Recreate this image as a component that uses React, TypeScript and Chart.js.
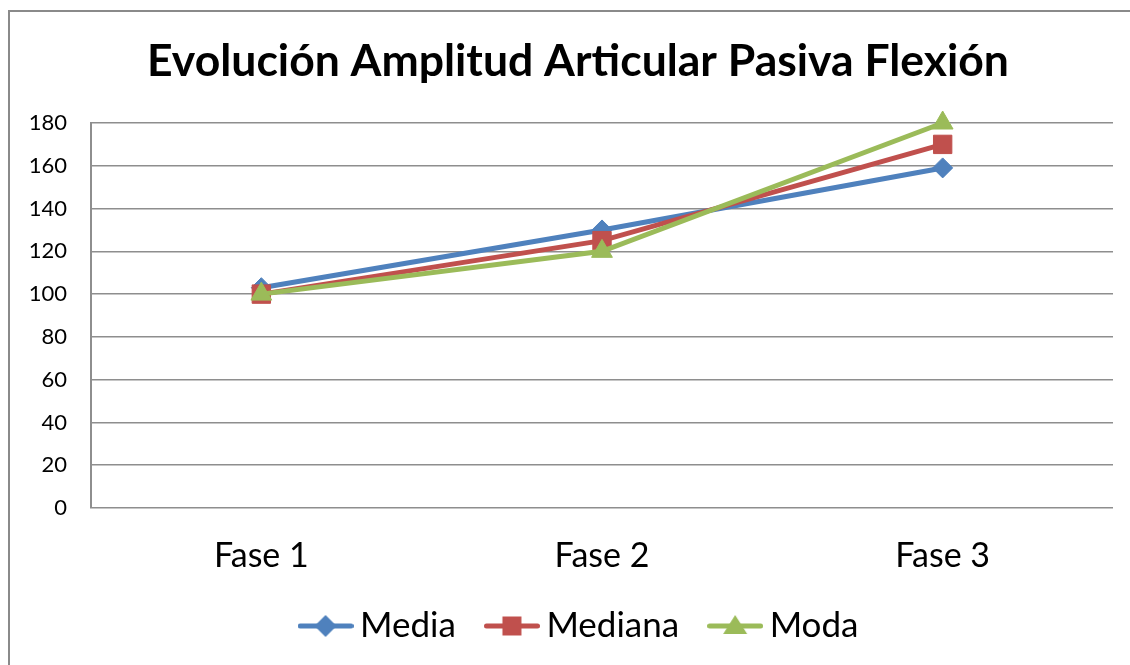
import React, { useEffect, useRef } from "react";
import { Chart, registerables } from "chart.js";

Chart.register(...registerables);

const titleText = "Evolución Amplitud Articular Pasiva Flexión";
const categories = ["Fase 1", "Fase 2", "Fase 3"];
const seriesNames = ["Media", "Mediana", "Moda"];
const mediaValues = [103, 130, 159];
const medianaValues = [100, 125, 170];
const modaValues = [100, 120, 180];
const yMin = 0;
const yMax = 180;
const yStep = 20;

const colors = ["#4F81BD", "#C0504D", "#9BBB59"];
const FONT = "Lato, 'Open Sans', sans-serif";

function makeIcon(kind: string, color: string): HTMLCanvasElement {
  const c = document.createElement("canvas");
  c.width = 56;
  c.height = 28;
  const ctx = c.getContext("2d")!;
  ctx.strokeStyle = color;
  ctx.fillStyle = color;
  ctx.lineWidth = 5;
  ctx.lineCap = "round";
  ctx.beginPath();
  ctx.moveTo(2.5, 14);
  ctx.lineTo(53.5, 14);
  ctx.stroke();
  ctx.beginPath();
  const cx = 28, cy = 14;
  if (kind === "diamond") {
    ctx.moveTo(cx, cy - 11);
    ctx.lineTo(cx + 11, cy);
    ctx.lineTo(cx, cy + 11);
    ctx.lineTo(cx - 11, cy);
  } else if (kind === "square") {
    ctx.rect(cx - 9.5, cy - 9.5, 19, 19);
  } else {
    ctx.moveTo(cx, cy - 11);
    ctx.lineTo(cx + 12, cy + 8);
    ctx.lineTo(cx - 12, cy + 8);
  }
  ctx.closePath();
  ctx.fill();
  return c;
}

const frame = {
  id: "frame",
  beforeDraw(chart: any) {
    const ctx = chart.ctx;
    ctx.save();
    ctx.fillStyle = "#ffffff";
    ctx.fillRect(0, 0, chart.width, chart.height);
    ctx.strokeStyle = "#8a8a8a";
    ctx.lineWidth = 2;
    ctx.strokeRect(9, 11, 1400, 900);
    ctx.restore();
  },
};

// Nudge the title and legend boxes so they sit where the original places them
const shiftBoxes = {
  id: "shiftBoxes",
  afterLayout(chart: any) {
    const t = chart.titleBlock;
    if (t) {
      t.left += 21.5;
      t.right += 21.5;
    }
    const l = chart.legend;
    if (l) {
      l.left += 27;
      l.right += 27;
      l.top -= 11.5;
      l.bottom -= 11.5;
    }
  },
};

export default function App() {
  const ref = useRef<HTMLCanvasElement | null>(null);
  useEffect(() => {
    if (!ref.current) return;
    const icons = [makeIcon("diamond", colors[0]), makeIcon("square", colors[1]), makeIcon("triangle", colors[2])];
    const chart = new Chart(ref.current, {
      type: "line",
      data: {
        labels: categories,
        datasets: [
          {
            label: seriesNames[0],
            data: mediaValues,
            borderColor: colors[0],
            backgroundColor: colors[0],
            borderWidth: 5,
            pointStyle: "rectRot",
            pointRadius: 10,
            pointBorderWidth: 1,
            clip: false,
            order: 3,
          },
          {
            label: seriesNames[1],
            data: medianaValues,
            borderColor: colors[1],
            backgroundColor: colors[1],
            borderWidth: 5,
            pointStyle: "rect",
            pointRadius: 13,
            pointBorderWidth: 1,
            clip: false,
            order: 2,
          },
          {
            label: seriesNames[2],
            data: modaValues,
            borderColor: colors[2],
            backgroundColor: colors[2],
            borderWidth: 5,
            pointStyle: "triangle",
            pointRadius: 12,
            pointBorderWidth: 1,
            clip: false,
            order: 1,
          },
        ],
      },
      options: {
        responsive: false,
        animation: false,
        layout: { padding: { left: 0, right: 17, top: 0, bottom: 0 } },
        scales: {
          x: {
            type: "category",
            offset: true,
            grid: { display: false, drawTicks: false },
            border: { display: false },
            ticks: { color: "#000", font: { family: FONT, size: 34 }, padding: 28 },
            afterFit(scale: any) {
              scale.height = 73;
            },
          },
          y: {
            min: yMin,
            max: yMax,
            ticks: { stepSize: yStep, color: "#000", font: { family: FONT, size: 22 }, padding: 24 },
            grid: { color: "#8e8e8e", lineWidth: 1.5, drawTicks: false },
            border: { display: true, color: "#8e8e8e", width: 2 },
            afterFit(scale: any) {
              scale.width = 91;
            },
          },
        },
        plugins: {
          title: {
            display: true,
            text: titleText,
            color: "#000",
            font: { family: FONT, size: 44.5, weight: "bold", lineHeight: 1.2 },
            padding: { top: 35.3, bottom: 34.3 },
          },
          legend: {
            position: "bottom",
            labels: {
              color: "#000",
              font: { family: FONT, size: 35 },
              usePointStyle: true,
              pointStyleWidth: 34,
              padding: 39,
              generateLabels: () =>
                seriesNames.map((name, i) => ({
                  text: name,
                  pointStyle: icons[i] as any,
                  fillStyle: colors[i],
                  strokeStyle: colors[i],
                  lineWidth: 0,
                  hidden: false,
                  datasetIndex: i,
                  fontColor: "#000",
                })),
            },
          },
          tooltip: { enabled: false },
        },
      },
      plugins: [frame, shiftBoxes],
    });
    return () => chart.destroy();
  }, []);
  return (
    <div style={{ position: "absolute", left: 0, top: 0, width: 1130, height: 665 }}>
      <canvas ref={ref} width={1130} height={665} />
    </div>
  );
}
